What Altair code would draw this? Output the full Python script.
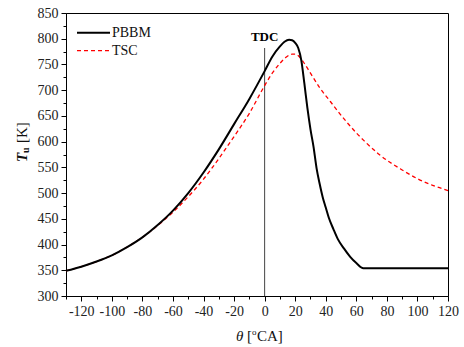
import altair as alt
import pandas as pd

# ---- data ----
theta_pbbm = [-130, -120, -110, -100, -90, -80, -70, -60, -50, -40, -30, -20, -10, 0,
              5, 10, 13, 16, 18, 20, 22, 24, 26, 28, 30, 32, 34, 36, 38, 40, 42, 45,
              48, 52, 56, 60, 64.6, 80, 100, 120]
t_pbbm = [349, 357, 367, 379, 395, 414, 438, 466, 500, 540, 585, 634, 683, 737,
          765, 785, 794, 798, 797, 792, 782, 758, 713, 665, 624, 590, 548, 518, 492, 472, 452, 430,
          410, 392, 376, 364, 354, 354, 354, 354]

theta_tsc = [-130, -120, -110, -100, -90, -80, -70, -60, -50, -40, -30, -20, -10, 0,
             5, 10, 14, 18, 20, 23, 26, 30, 36, 43, 49, 54, 60, 65, 75,
             90, 100, 110, 120]
t_tsc = [349, 357, 367, 379, 395, 414, 437, 463, 493, 527, 567, 610, 655, 709,
         733, 752, 764, 770, 770, 764, 752, 733, 705, 678, 655, 637, 617, 602, 575,
         545, 528, 515, 505]

x_ticks = list(range(-130, 121, 10))
y_ticks = list(range(300, 851, 25))

tdc_theta = [0]
tdc_low = [300]
tdc_high = [782]
tdc_label_y = [804]

FONT = "Liberation Serif"

df_p = pd.DataFrame({"theta": theta_pbbm, "T": t_pbbm})
df_t = pd.DataFrame({"theta": theta_tsc, "T": t_tsc})
df_tdc = pd.DataFrame({"theta": tdc_theta, "lo": tdc_low, "hi": tdc_high, "ly": tdc_label_y})
one = pd.DataFrame({"a": [0]})

xscale = alt.Scale(domain=[-130, 120], nice=False, zero=False)
yscale = alt.Scale(domain=[300, 850], nice=False, zero=False)

xaxis = alt.Axis(
    values=x_ticks,
    labelExpr="datum.value % 20 === 0 ? '' + datum.value : ''",
    tickSize={"condition": {"test": "datum.value % 20 === 0", "value": 5}, "value": 3},
    grid=False, title=None, labelFont=FONT, labelFontSize=14, labelColor="#222",
    domainColor="#000", tickColor="#000", labelPadding=3, labelOverlap=False,
    labelFlush=False,
)
yaxis = alt.Axis(
    values=y_ticks,
    labelExpr="datum.value % 50 === 0 ? '' + datum.value : ''",
    tickSize={"condition": {"test": "datum.value % 50 === 0", "value": 5}, "value": 3},
    grid=False, title=None, labelFont=FONT, labelFontSize=14, labelColor="#222",
    domainColor="#000", tickColor="#000", labelPadding=3, labelOverlap=False,
    labelFlush=False,
)


def X(field):
    return alt.X(field, type="quantitative", scale=xscale, axis=xaxis)


def Y(field):
    return alt.Y(field, type="quantitative", scale=yscale, axis=yaxis)


pbbm = alt.Chart(df_p).mark_line(color="black", strokeWidth=2, interpolate="monotone").encode(
    x=X("theta"), y=Y("T"),
)
tsc = alt.Chart(df_t).mark_line(color="#ff0000", strokeWidth=1.3, strokeDash=[4, 3],
                                interpolate="monotone").encode(
    x=X("theta"), y=Y("T"),
)

tdc_rule = alt.Chart(df_tdc).mark_rule(color="#444", strokeWidth=1).encode(
    x=X("theta"), y=Y("lo"), y2="hi:Q",
)
tdc_text = alt.Chart(df_tdc).mark_text(text="TDC", font=FONT, fontSize=13, fontWeight="bold",
                                       baseline="middle", align="center", color="#000").encode(
    x=X("theta"), y=Y("ly"),
)

# legend
leg_line1 = alt.Chart(one).mark_rule(color="black", strokeWidth=2).encode(
    x=alt.value(11), x2=alt.value(44), y=alt.value(19.7))
leg_line2 = alt.Chart(one).mark_rule(color="#ff0000", strokeWidth=1.3, strokeDash=[4, 3]).encode(
    x=alt.value(11), x2=alt.value(44), y=alt.value(37.7))
leg_t1 = alt.Chart(one).mark_text(text="PBBM", font=FONT, fontSize=14, align="left",
                                  baseline="middle", color="#111").encode(
    x=alt.value(46), y=alt.value(20))
leg_t2 = alt.Chart(one).mark_text(text="TSC", font=FONT, fontSize=14, align="left",
                                  baseline="middle", color="#111").encode(
    x=alt.value(46), y=alt.value(38))

# axis titles (mixed styles)
yt_T = alt.Chart(one).mark_text(text="T", font=FONT, fontSize=15, fontWeight="bold",
                                fontStyle="italic", angle=270, align="left",
                                baseline="middle", color="#111").encode(
    x=alt.value(-44), y=alt.value(149))
yt_u = alt.Chart(one).mark_text(text="u", font=FONT, fontSize=10, fontWeight="bold",
                                angle=270, align="left", baseline="middle",
                                color="#111").encode(
    x=alt.value(-40.5), y=alt.value(140))
yt_K = alt.Chart(one).mark_text(text="[K]", font=FONT, fontSize=15, angle=270, align="left",
                                baseline="middle", color="#111").encode(
    x=alt.value(-44), y=alt.value(130))

xt_th = alt.Chart(one).mark_text(text="θ", font=FONT, fontSize=15, fontStyle="italic",
                                 align="left", baseline="alphabetic", color="#111").encode(
    x=alt.value(170), y=alt.value(328))
xt_b = alt.Chart(one).mark_text(text="[", font=FONT, fontSize=15, align="left",
                                baseline="alphabetic", color="#111").encode(
    x=alt.value(181), y=alt.value(328))
xt_o = alt.Chart(one).mark_text(text="o", font=FONT, fontSize=9, align="left",
                                baseline="alphabetic", color="#111").encode(
    x=alt.value(186), y=alt.value(322))
xt_ca = alt.Chart(one).mark_text(text="CA]", font=FONT, fontSize=15, align="left",
                                 baseline="alphabetic", color="#111").encode(
    x=alt.value(191), y=alt.value(328))

chart = alt.layer(
    tdc_rule, tsc, pbbm, tdc_text,
    leg_line1, leg_line2, leg_t1, leg_t2,
    yt_T, yt_u, yt_K, xt_th, xt_b, xt_o, xt_ca,
).properties(
    width=382, height=283,
    autosize=alt.AutoSizeParams(type="none"),
    padding={"left": 66, "top": 13, "right": 16, "bottom": 51},
    background="white",
).configure_view(
    stroke="black", strokeWidth=1,
).configure_axis(
    domainWidth=1, tickWidth=1, labelFont=FONT, labelFontSize=14,
).configure_text(
    font=FONT,
)

chart.save("out.html", embed_options={"renderer": "svg", "actions": False})
